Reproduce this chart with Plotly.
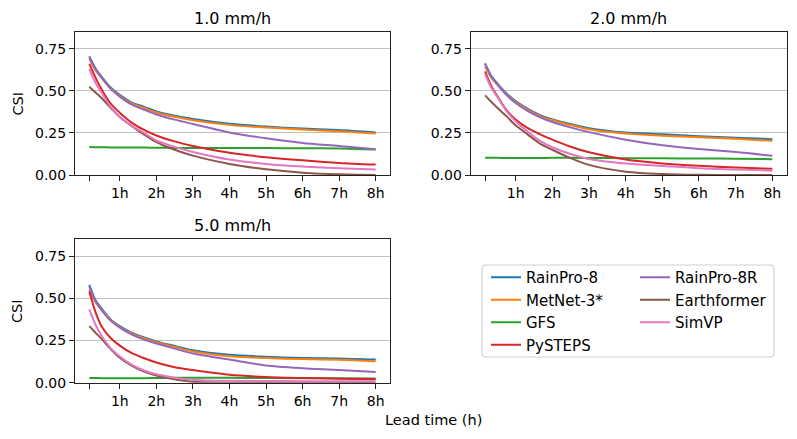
import plotly.graph_objects as go

W, H = 797, 439
OFF = 8  # page body margin offset (window px)

lead_min = [10, 20, 30, 45, 60, 80, 100, 120, 150, 180, 240, 300, 360, 420, 480]
tick_vals = [10, 60, 120, 180, 240, 300, 360, 420, 480]
tick_text = ["", "1h", "2h", "3h", "4h", "5h", "6h", "7h", "8h"]
y_ticks = [0.0, 0.25, 0.5, 0.75]
y_tick_text = ["0.00", "0.25", "0.50", "0.75"]

models = ["RainPro-8", "MetNet-3*", "GFS", "PySTEPS", "RainPro-8R", "Earthformer", "SimVP"]
colors = ["#1f77b4", "#ff7f0e", "#2ca02c", "#d62728", "#9467bd", "#8c564b", "#e377c2"]
thresholds = ["1.0 mm/h", "2.0 mm/h", "5.0 mm/h"]

# CSI @ 1.0 mm/h
csi_1_rainpro8 = [0.705, 0.635, 0.585, 0.52, 0.476, 0.43, 0.405, 0.378, 0.352, 0.333, 0.305, 0.288, 0.276, 0.268, 0.253]
csi_1_metnet3 = [0.69, 0.625, 0.578, 0.515, 0.471, 0.425, 0.398, 0.372, 0.346, 0.326, 0.298, 0.282, 0.270, 0.260, 0.247]
csi_1_gfs = [0.166, 0.165, 0.165, 0.164, 0.164, 0.163, 0.163, 0.162, 0.161, 0.161, 0.160, 0.160, 0.159, 0.158, 0.152]
csi_1_pysteps = [0.66, 0.58, 0.51, 0.425, 0.37, 0.31, 0.268, 0.235, 0.20, 0.172, 0.132, 0.106, 0.087, 0.072, 0.062]
csi_1_rainpro8r = [0.70, 0.63, 0.58, 0.512, 0.466, 0.418, 0.388, 0.36, 0.329, 0.303, 0.253, 0.218, 0.19, 0.172, 0.153]
csi_1_earthformer = [0.524, 0.49, 0.458, 0.40, 0.345, 0.29, 0.24, 0.195, 0.15, 0.115, 0.066, 0.034, 0.014, 0.004, 0.0]
csi_1_simvp = [0.63, 0.55, 0.49, 0.405, 0.345, 0.292, 0.25, 0.205, 0.167, 0.137, 0.092, 0.066, 0.05, 0.04, 0.033]

# CSI @ 2.0 mm/h
csi_2_rainpro8 = [0.663, 0.59, 0.545, 0.485, 0.44, 0.393, 0.356, 0.33, 0.303, 0.278, 0.252, 0.242, 0.23, 0.222, 0.213]
csi_2_metnet3 = [0.645, 0.58, 0.538, 0.478, 0.434, 0.387, 0.35, 0.325, 0.297, 0.272, 0.246, 0.234, 0.224, 0.215, 0.203]
csi_2_gfs = [0.103, 0.102, 0.102, 0.101, 0.101, 0.101, 0.101, 0.102, 0.102, 0.101, 0.100, 0.099, 0.098, 0.097, 0.094]
csi_2_pysteps = [0.616, 0.53, 0.47, 0.385, 0.33, 0.278, 0.242, 0.21, 0.168, 0.135, 0.092, 0.069, 0.055, 0.045, 0.037]
csi_2_rainpro8r = [0.66, 0.585, 0.538, 0.475, 0.428, 0.38, 0.343, 0.315, 0.283, 0.255, 0.21, 0.177, 0.154, 0.136, 0.114]
csi_2_earthformer = [0.473, 0.435, 0.40, 0.35, 0.295, 0.24, 0.187, 0.15, 0.10, 0.06, 0.02, 0.006, 0.001, 0.0, 0.0]
csi_2_simvp = [0.60, 0.52, 0.465, 0.38, 0.32, 0.257, 0.203, 0.165, 0.125, 0.095, 0.068, 0.054, 0.04, 0.033, 0.026]

# CSI @ 5.0 mm/h
csi_5_rainpro8 = [0.58, 0.49, 0.44, 0.375, 0.335, 0.295, 0.268, 0.245, 0.218, 0.192, 0.165, 0.154, 0.147, 0.144, 0.137]
csi_5_metnet3 = [0.55, 0.478, 0.432, 0.37, 0.33, 0.29, 0.262, 0.24, 0.212, 0.185, 0.157, 0.146, 0.14, 0.136, 0.127]
csi_5_gfs = [0.028, 0.028, 0.027, 0.027, 0.026, 0.026, 0.027, 0.028, 0.029, 0.029, 0.029, 0.028, 0.027, 0.026, 0.025]
csi_5_pysteps = [0.54, 0.42, 0.335, 0.265, 0.22, 0.175, 0.145, 0.12, 0.092, 0.075, 0.047, 0.034, 0.028, 0.024, 0.02]
csi_5_rainpro8r = [0.57, 0.485, 0.432, 0.368, 0.326, 0.285, 0.255, 0.232, 0.202, 0.173, 0.137, 0.102, 0.086, 0.076, 0.063]
csi_5_earthformer = [0.335, 0.297, 0.26, 0.20, 0.148, 0.10, 0.066, 0.043, 0.02, 0.005, 0.0, 0.0, 0.0, 0.0, 0.0]
csi_5_simvp = [0.435, 0.345, 0.28, 0.205, 0.155, 0.105, 0.072, 0.05, 0.03, 0.018, 0.011, 0.01, 0.009, 0.009, 0.008]

panels = [
    [csi_1_rainpro8, csi_1_metnet3, csi_1_gfs, csi_1_pysteps, csi_1_rainpro8r, csi_1_earthformer, csi_1_simvp],
    [csi_2_rainpro8, csi_2_metnet3, csi_2_gfs, csi_2_pysteps, csi_2_rainpro8r, csi_2_earthformer, csi_2_simvp],
    [csi_5_rainpro8, csi_5_metnet3, csi_5_gfs, csi_5_pysteps, csi_5_rainpro8r, csi_5_earthformer, csi_5_simvp],
]

FONT = "DejaVu Sans"

def px_x(v):
    return (v - OFF) / W

def px_y(v):
    return 1 - (v - OFF) / H

# axes boxes in window pixels: (left, right, top, bottom)
boxes = [(75, 390, 32, 175), (470.7, 786.7, 32, 175), (75, 390, 239.3, 382.7)]

fig = go.Figure()
layout = dict(
    width=W, height=H,
    margin=dict(l=0, r=0, t=0, b=0, pad=0, autoexpand=False),
    paper_bgcolor="white", plot_bgcolor="white",
    font=dict(family=FONT, size=14, color="black"),
    showlegend=True,
)

for i, (series, box) in enumerate(zip(panels, boxes)):
    xa = "xaxis" if i == 0 else f"xaxis{i+1}"
    ya = "yaxis" if i == 0 else f"yaxis{i+1}"
    xref = "x" if i == 0 else f"x{i+1}"
    yref = "y" if i == 0 else f"y{i+1}"
    l, r, t, b = box
    layout[xa] = dict(
        domain=[px_x(l), px_x(r)], anchor=yref, automargin=False,
        range=[-13.5, 503.5], tickvals=tick_vals, ticktext=tick_text,
        showgrid=False, zeroline=False, showline=True, mirror=True,
        linecolor="#222", linewidth=1.1, ticks="outside", ticklen=5, tickwidth=1.1,
        tickcolor="#222", tickfont=dict(size=14, family=FONT, color="black"),
    )
    layout[ya] = dict(
        domain=[px_y(b), px_y(t)], anchor=xref, automargin=False,
        range=[0, 0.85], tickvals=y_ticks, ticktext=y_tick_text,
        showgrid=True, gridcolor="#c0c0c0", gridwidth=1.1, zeroline=False,
        showline=True, mirror=True, linecolor="#222", linewidth=1.1,
        ticks="outside", ticklen=5, tickwidth=1.1, tickcolor="#222",
        tickfont=dict(size=14, family=FONT, color="black"),
    )
    for j, (name, col, vals) in enumerate(zip(models, colors, series)):
        fig.add_trace(go.Scatter(
            x=lead_min, y=vals, mode="lines", name=name,
            line=dict(color=col, width=2, shape="spline", smoothing=0.8),
            xaxis=xref, yaxis=yref,
            showlegend=(i == 0), legendgroup=name,
            legend="legend" if j < 4 else "legend2",
        ))

for key, lx in (("legend", 486), ("legend2", 635)):
    layout[key] = dict(
        x=px_x(lx), y=px_y(261), xanchor="left", yanchor="top",
        bgcolor="rgba(0,0,0,0)", borderwidth=0,
        font=dict(family=FONT, size=15, color="black"),
        orientation="v", traceorder="grouped", tracegroupgap=0,
    )

annotations = []
for th, box in zip(thresholds, boxes):
    l, r, t, b = box
    annotations.append(dict(
        text=th, x=px_x((l + r) / 2), y=px_y(t - 2), xref="paper", yref="paper",
        xanchor="center", yanchor="bottom", showarrow=False,
        font=dict(family=FONT, size=16, color="black"),
    ))
for box in [boxes[0], boxes[2]]:
    l, r, t, b = box
    annotations.append(dict(
        text="CSI", x=px_x(17), y=px_y((t + b) / 2), xref="paper", yref="paper",
        xanchor="center", yanchor="middle", showarrow=False, textangle=-90,
        font=dict(family=FONT, size=14.5, color="black"),
    ))
annotations.append(dict(
    text="Lead time (h)", x=px_x(433.5), y=px_y(420), xref="paper", yref="paper",
    xanchor="center", yanchor="middle", showarrow=False,
    font=dict(family=FONT, size=14.5, color="black"),
))
layout["annotations"] = annotations

# legend frame (rounded rectangle)
x0, x1, y0, y1 = 482, 774, 265, 357
rr = 4
def P(x, y):
    return f"{px_x(x):.5f},{px_y(y):.5f}"
path = (f"M{P(x0+rr, y0)} L{P(x1-rr, y0)} Q{P(x1, y0)} {P(x1, y0+rr)} "
        f"L{P(x1, y1-rr)} Q{P(x1, y1)} {P(x1-rr, y1)} L{P(x0+rr, y1)} "
        f"Q{P(x0, y1)} {P(x0, y1-rr)} L{P(x0, y0+rr)} Q{P(x0, y0)} {P(x0+rr, y0)} Z")
layout["shapes"] = [dict(type="path", path=path, xref="paper", yref="paper",
                         line=dict(color="#d0d0d0", width=1.1), fillcolor="white", layer="below")]

fig.update_layout(**layout)
fig.write_html("out.html")
